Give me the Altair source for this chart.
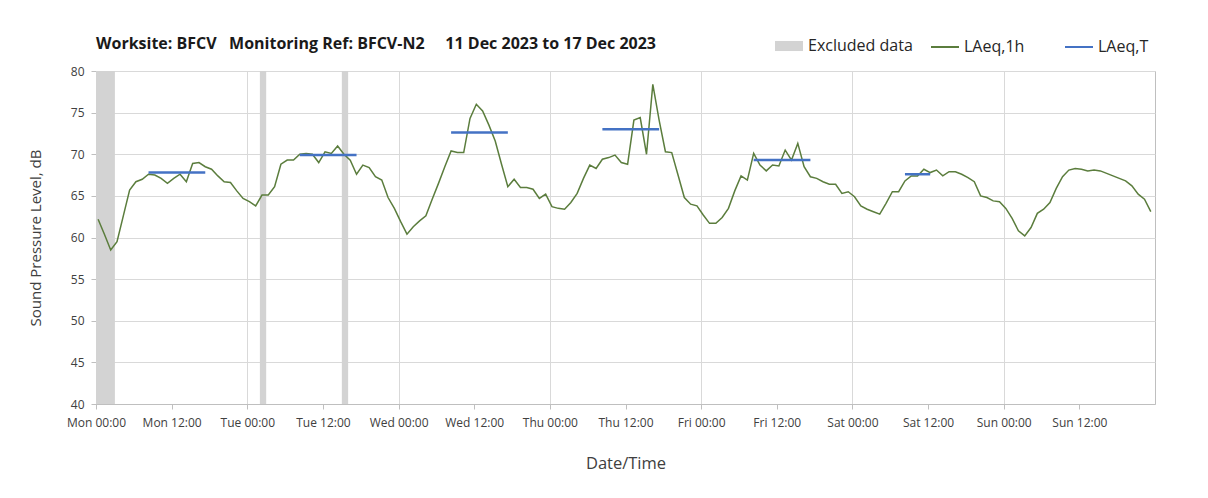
import altair as alt
import pandas as pd

# Hourly LAeq,1h values (dB), Mon 11 Dec 2023 00:20 onwards
levels = [
    62.2, 60.4, 58.5, 59.5, 62.6, 65.7, 66.7, 67.0, 67.6, 67.5, 67.1, 66.5,
    67.1, 67.6, 66.7, 68.9, 69.0, 68.5, 68.2, 67.4, 66.7, 66.6, 65.6, 64.7,
    64.3, 63.8, 65.1, 65.1, 66.1, 68.8, 69.3, 69.3, 70.0, 70.1, 70.0, 69.0,
    70.3, 70.1, 71.0, 70.0, 69.3, 67.6, 68.7, 68.4, 67.3, 66.9, 64.8, 63.5,
    61.9, 60.4, 61.3, 62.0, 62.6, 64.6, 66.5, 68.5, 70.4, 70.2, 70.2, 74.3,
    76.0, 75.2, 73.5, 71.6, 68.8, 66.1, 67.0, 66.0, 66.0, 65.8, 64.7, 65.2,
    63.7, 63.5, 63.4, 64.2, 65.3, 67.1, 68.7, 68.3, 69.4, 69.6, 69.9, 69.0,
    68.8, 74.1, 74.4, 70.0, 78.4, 74.1, 70.3, 70.2, 67.5, 64.8, 64.0, 63.8,
    62.7, 61.7, 61.7, 62.4, 63.5, 65.6, 67.4, 66.9, 70.1, 68.7, 68.0, 68.7,
    68.6, 70.5, 69.3, 71.3, 68.5, 67.3, 67.1, 66.7, 66.4, 66.4, 65.3, 65.5,
    64.9, 63.8, 63.4, 63.1, 62.8, 64.1, 65.5, 65.5, 66.8, 67.4, 67.4, 68.2,
    67.8, 68.1, 67.4, 67.9, 67.9, 67.6, 67.2, 66.7, 65.0, 64.8, 64.4, 64.3,
    63.5, 62.3, 60.8, 60.2, 61.2, 62.9, 63.4, 64.2, 65.9, 67.3, 68.1, 68.3,
    68.2, 68.0, 68.1, 68.0, 67.7, 67.4, 67.1, 66.8, 66.2, 65.2, 64.6, 63.1,
]
first_time = "2023-12-11 00:20"

# LAeq,T daytime periods
seg_start = ["2023-12-11T08:20", "2023-12-12T08:20", "2023-12-13T08:20",
             "2023-12-14T08:20", "2023-12-15T08:20", "2023-12-16T08:20"]
seg_end = ["2023-12-11T17:20", "2023-12-12T17:20", "2023-12-13T17:20",
           "2023-12-14T17:20", "2023-12-15T17:20", "2023-12-16T12:20"]
seg_level = [67.8, 69.9, 72.6, 73.0, 69.3, 67.6]

# Excluded data periods
ex_start = ["2023-12-11T00:00", "2023-12-12T02:00", "2023-12-12T15:00"]
ex_end = ["2023-12-11T03:00", "2023-12-12T03:00", "2023-12-12T16:00"]

line_names = ["LAeq,1h", "LAeq,T"]
line_colors = ["#5b7d3d", "#4472c4"]
excluded_name = "Excluded data"
excluded_color = "#d3d3d3"

title_text = ("Worksite: BFCV\u00a0\u00a0\u00a0Monitoring Ref: BFCV-N2"
              "\u00a0\u00a0\u00a0\u00a0\u00a011 Dec 2023 to 17 Dec 2023")

FONT = "Open Sans"

times = pd.date_range(first_time, periods=len(levels), freq="h").strftime("%Y-%m-%dT%H:%M")
line_df = pd.DataFrame({"time": list(times), "level": levels, "series": "LAeq,1h"})
seg_df = pd.DataFrame({"start": seg_start, "end": seg_end, "level": seg_level, "series": "LAeq,T"})
ex_df = pd.DataFrame({"start": ex_start, "end": ex_end, "series": excluded_name})

tick_values = [alt.DateTime(year=2023, month=12, date=11 + d, hours=h)
               for d in range(7) for h in (0, 12)]

x_scale = alt.Scale(domain=[alt.DateTime(year=2023, month=12, date=11),
                            alt.DateTime(year=2023, month=12, date=18)])
y_scale = alt.Scale(domain=[40, 80])

x_axis = alt.Axis(
    values=tick_values, format="%a %H:%M", labelAngle=0, title="Date/Time",
    labelOverlap=False, labelFlush=False,
    tickSize=5, tickColor="#bfbfbf", domainColor="#bfbfbf",
    gridColor="#d9d9d9",
    gridOpacity={"condition": {"test": "hours(datum.value) == 0", "value": 1}, "value": 0},
    labelFontSize=12, labelColor="#404040", labelPadding=8,
    titleFontSize=16.5, titleFontWeight="normal", titleColor="#404040", titlePadding=27,
)
y_axis = alt.Axis(
    values=list(range(40, 85, 5)), title="Sound Pressure Level, dB",
    tickSize=5, tickColor="#bfbfbf", domainColor="#bfbfbf", gridColor="#d9d9d9",
    labelFontSize=12, labelColor="#404040", labelPadding=7,
    titleFontSize=15, titleFontWeight="normal", titleColor="#404040", titlePadding=27,
)

fill_legend = alt.Legend(
    title=None, orient="none", legendX=679, legendY=-39, direction="horizontal",
    symbolType="M-1,-0.36L1,-0.36L1,0.36L-1,0.36Z", symbolSize=784,
    symbolStrokeWidth=0, symbolOpacity=1,
    labelFontSize=16, labelFont=FONT, labelColor="#262626", labelOffset=5,
)
stroke_legend = alt.Legend(
    title=None, orient="none", legendX=834, legendY=-39, direction="horizontal",
    symbolType="stroke", symbolSize=784, symbolStrokeWidth=2,
    labelFontSize=16, labelFont=FONT, labelColor="#262626", columnPadding=36,
    labelOffset=4,
)
fill = alt.Fill("series:N", scale=alt.Scale(domain=[excluded_name], range=[excluded_color]),
                legend=fill_legend)
stroke = alt.Stroke("series:N", scale=alt.Scale(domain=line_names, range=line_colors),
                    legend=stroke_legend)

excluded = alt.Chart(ex_df).mark_rect(opacity=1).encode(
    x=alt.X("start:T", scale=x_scale, axis=x_axis),
    x2="end:T",
    fill=fill,
)
line = alt.Chart(line_df).mark_line(strokeWidth=1.5).encode(
    x=alt.X("time:T", scale=x_scale, axis=x_axis),
    y=alt.Y("level:Q", scale=y_scale, axis=y_axis),
    stroke=stroke,
)
rules = alt.Chart(seg_df).mark_rule(strokeWidth=2.5).encode(
    x=alt.X("start:T", scale=x_scale),
    x2="end:T",
    y=alt.Y("level:Q", scale=y_scale),
    stroke=stroke,
)

chart = alt.layer(excluded, line, rules).properties(
    width=1059, height=333,
    autosize=alt.AutoSizeParams(type="none"),
    padding={"left": 88, "top": 63, "right": 45, "bottom": 80},
    title=alt.Title(title_text, anchor="start", frame="group", fontSize=16, font=FONT,
                    fontWeight="bold", color="#1a1a1a", offset=-20),
).configure(font=FONT).configure_view(stroke="#bfbfbf", strokeWidth=1)

chart.save("out.html", embed_options={"renderer": "svg", "actions": False})
